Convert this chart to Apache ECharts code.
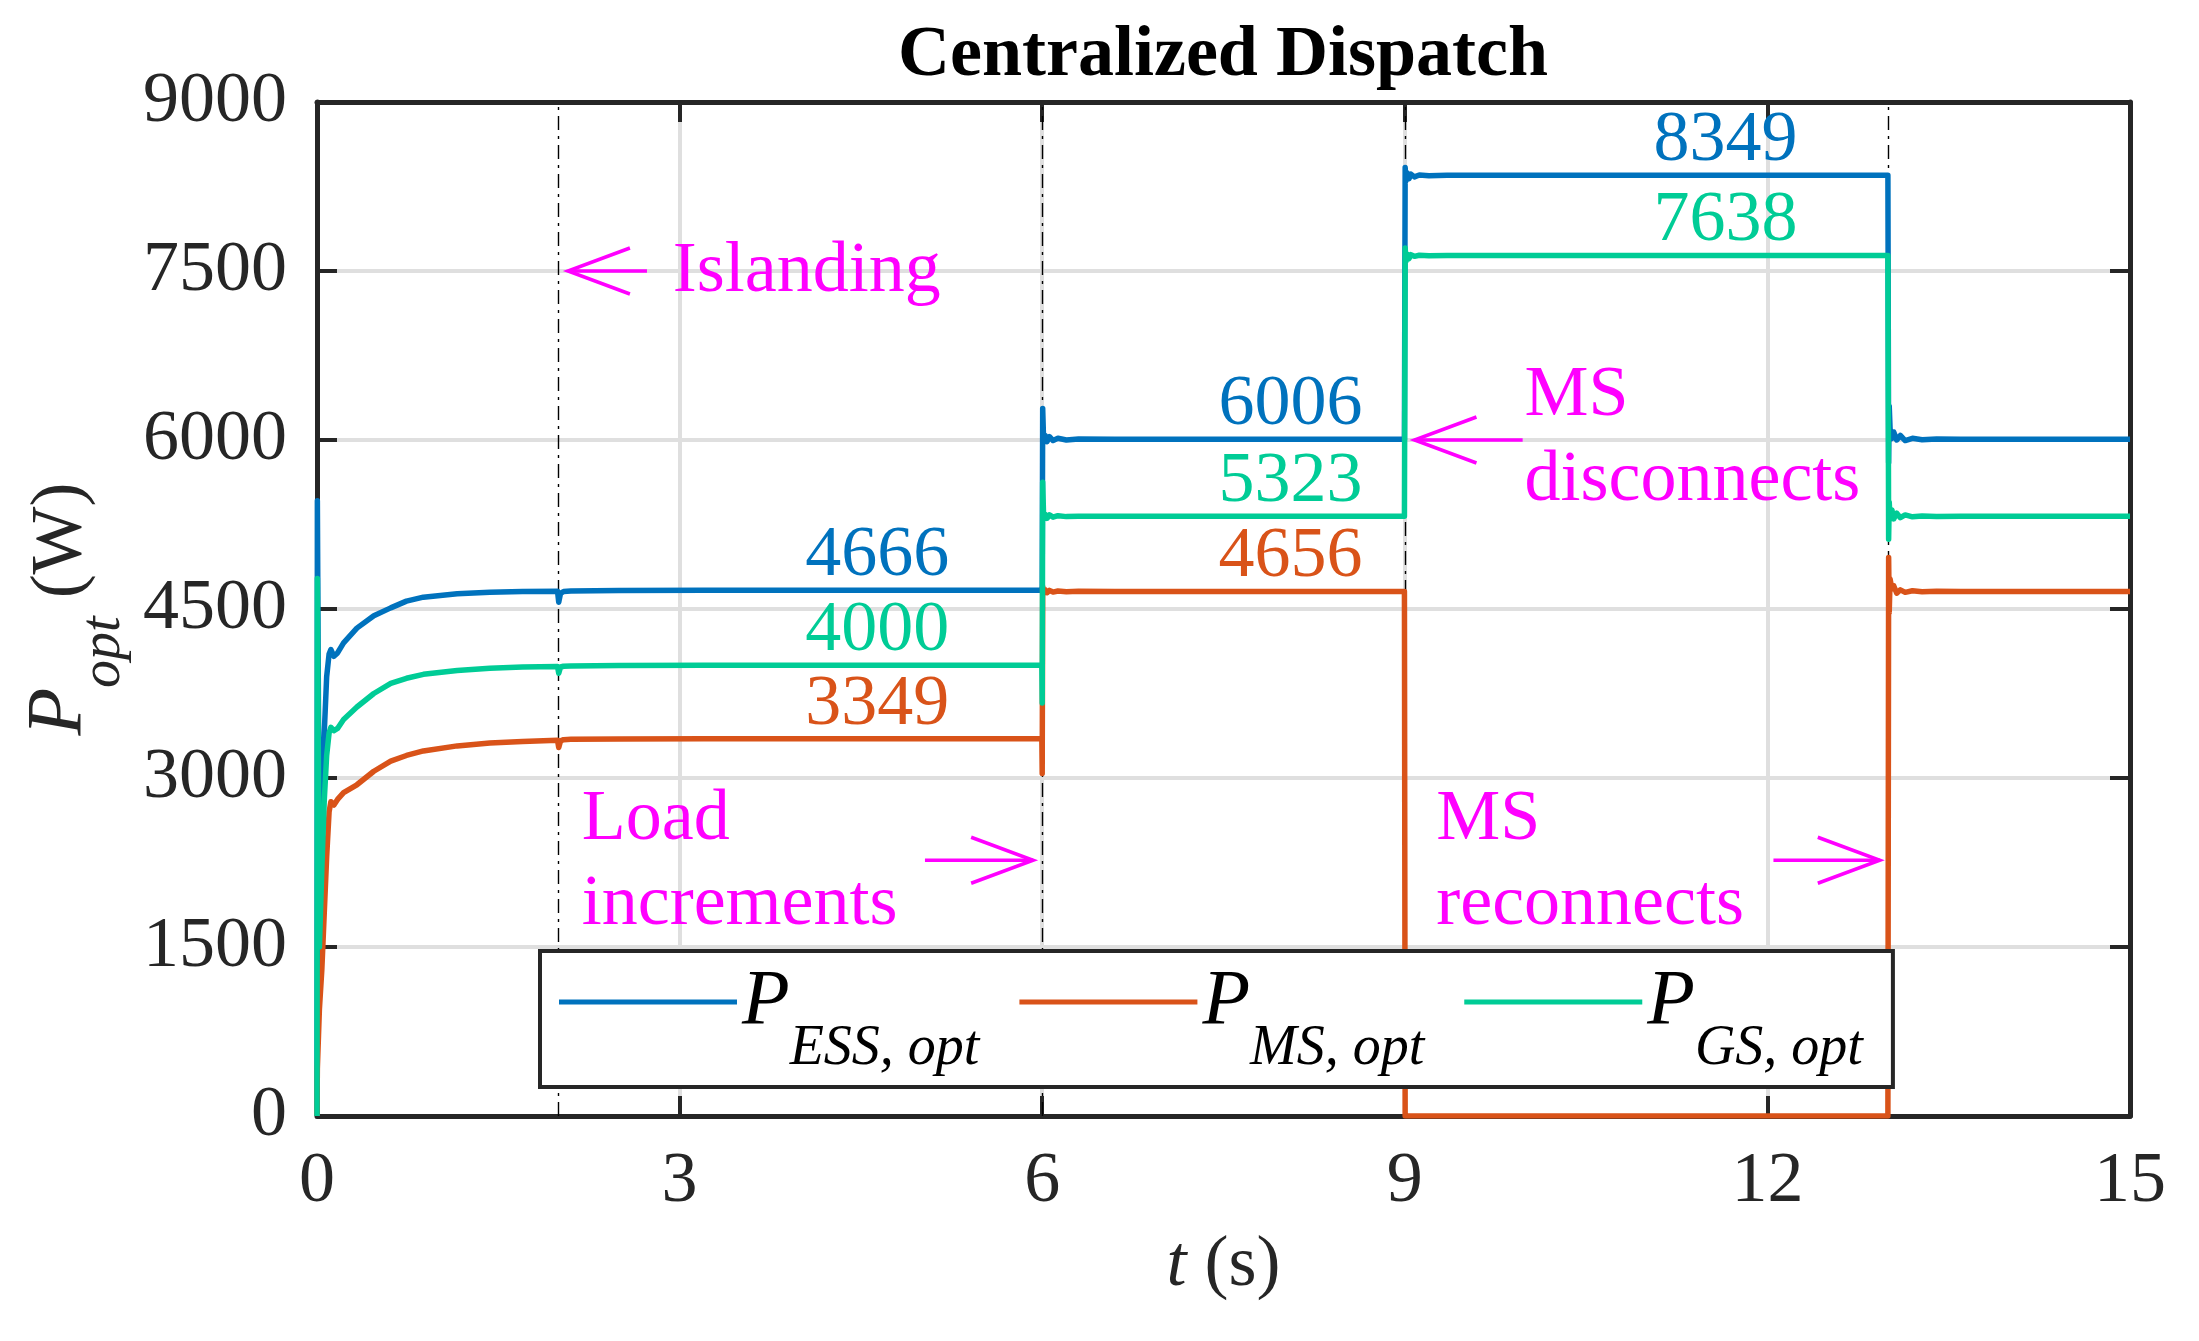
<!DOCTYPE html>
<html><head><meta charset="utf-8">
<script src="https://cdn.jsdelivr.net/npm/echarts@6/dist/echarts.min.js"></script>
<style>html,body{margin:0;padding:0;background:#fff}#c{width:2199px;height:1341px}</style>
</head><body><div id="c"></div>
<script>
const FONT = '"Liberation Serif","Times New Roman",Times,serif';

// time samples (s), shared by the three series
const timeS = [
  0, 0.003, 0.02, 0.04, 0.06, 0.08, 0.1, 0.115, 0.14, 0.17, 0.22, 0.33, 0.47, 0.61, 0.74, 0.88, 1.16, 1.43, 1.7, 1.99,
  2.0, 2.015, 2.04, 2.1, 2.5, 3.2, 4.5, 5.997,
  6.0, 6.004, 6.012, 6.025, 6.04, 6.06, 6.09, 6.13, 6.2, 6.3, 6.6, 7.5, 8.997,
  9.003, 9.01, 9.02, 9.035, 9.05, 9.08, 9.12, 9.2, 9.35, 9.6, 11, 12.997,
  13.003, 13.008, 13.015, 13.03, 13.045, 13.07, 13.1, 13.14, 13.2, 13.28, 13.4, 13.6, 14.2, 15
];
const essP = [
  0, 5460, 2000, 2700, 3400, 3900, 4100, 4140, 4080, 4110, 4200, 4330, 4440, 4510, 4570, 4605, 4635, 4648, 4655, 4658,
  4560, 4640, 4655, 4660, 4664, 4666, 4666, 4666,
  4700, 6280, 5980, 6040, 5985, 6030, 5995, 6015, 6000, 6008, 6006, 6006, 6006,
  8418, 8300, 8370, 8320, 8360, 8335, 8352, 8345, 8350, 8349, 8349, 8349,
  5800, 6300, 6100, 6012, 6071, 6000, 6040, 5995, 6015, 6002, 6008, 6006, 6006, 6006
];
const msP = [
  0, 420, 950, 1300, 1800, 2300, 2700, 2790, 2760, 2810, 2870, 2940, 3060, 3150, 3200, 3240, 3285, 3310, 3325, 3335,
  3270, 3330, 3340, 3343, 3347, 3349, 3349, 3349,
  3040, 4700, 4640, 4670, 4645, 4665, 4650, 4660, 4654, 4657, 4656, 4656, 4656,
  0, 0, 0, 0, 0, 0, 0, 0, 0, 0, 0, 0,
  4957, 4470, 4766, 4678, 4707, 4640, 4670, 4648, 4662, 4653, 4657, 4656, 4656, 4656
];
const gsP = [
  0, 4770, 1500, 2200, 2800, 3200, 3400, 3450, 3420, 3440, 3520, 3630, 3750, 3840, 3885, 3920, 3955, 3975, 3985, 3990,
  3930, 3985, 3992, 3995, 3998, 4000, 4000, 4000,
  3666, 5626, 5300, 5340, 5305, 5335, 5315, 5328, 5320, 5324, 5323, 5323, 5323,
  7705, 7586, 7650, 7610, 7645, 7630, 7640, 7636, 7638, 7638, 7638, 7638,
  5120, 5448, 5300, 5380, 5300, 5350, 5310, 5335, 5318, 5326, 5322, 5323, 5323, 5323
];

const seriesNames = ['ESS, opt', 'MS, opt', 'GS, opt'];
const seriesColors = ['#0072BD', '#D95319', '#00CC96'];
const eventTimes = [2, 6, 9, 13];

// steady-state value labels: text, right-edge time, level
const valueLabels = [
  { text: '4666', t: 5.23, v: 4666, c: 0 },
  { text: '4000', t: 5.23, v: 4000, c: 2 },
  { text: '3349', t: 5.23, v: 3349, c: 1 },
  { text: '6006', t: 8.65, v: 6006, c: 0 },
  { text: '5323', t: 8.65, v: 5323, c: 2 },
  { text: '4656', t: 8.65, v: 4656, c: 1 },
  { text: '8349', t: 12.25, v: 8349, c: 0 },
  { text: '7638', t: 12.25, v: 7638, c: 2 }
];
// event notes (left edge time, baseline level)
const notes = [
  { text: 'Islanding', t: 2.944, v: 7270 },
  { text: 'Load', t: 2.19, v: 2405 },
  { text: 'increments', t: 2.19, v: 1651 },
  { text: 'MS', t: 9.99, v: 6169 },
  { text: 'disconnects', t: 9.99, v: 5414 },
  { text: 'MS', t: 9.26, v: 2405 },
  { text: 'reconnects', t: 9.26, v: 1651 }
];
// arrows: from tail to tip
const arrows = [
  { from: [2.73, 7500], to: [2.076, 7500] },
  { from: [5.03, 2270], to: [5.925, 2270] },
  { from: [9.975, 6000], to: [9.08, 6000] },
  { from: [12.05, 2270], to: [12.93, 2270] }
];

const pairs = (vals) => timeS.map((t, i) => [t, vals[i]]);
const seriesVals = [essP, msP, gsP];

const axisCol = '#262626';
const chart = echarts.init(document.getElementById('c'), null, { renderer: 'canvas' });

const baseAxis = {
  axisLine: { show: true, onZero: false, lineStyle: { color: axisCol, width: 5 } },
  axisTick: { show: true, inside: true, length: 20, lineStyle: { color: axisCol, width: 4 } }
};

const option = {
  animation: false,
  backgroundColor: '#fff',
  title: {
    text: 'Centralized Dispatch', left: 893, top: 15,
    textStyle: { fontFamily: FONT, fontSize: 72, fontWeight: 'bold', color: '#000' }
  },
  grid: { left: 317, top: 102, width: 1813, height: 1014, containLabel: false },
  xAxis: [
    Object.assign({}, baseAxis, {
      type: 'value', min: 0, max: 15, interval: 3, position: 'bottom',
      axisLabel: { fontFamily: FONT, fontSize: 72, color: axisCol, margin: 30, formatter: (v) => String(v) },
      splitLine: { show: true, lineStyle: { color: '#dfdfdf', width: 4 } },
      name: '{i|t}{n| (s)}', nameLocation: 'middle', nameGap: 114,
      nameTextStyle: { rich: {
        i: { fontFamily: FONT, fontSize: 72, fontStyle: 'italic', color: axisCol },
        n: { fontFamily: FONT, fontSize: 72, color: axisCol }
      } }
    }),
    Object.assign({}, baseAxis, {
      type: 'value', min: 0, max: 15, interval: 3, position: 'top',
      axisLabel: { show: false }, splitLine: { show: false }
    })
  ],
  yAxis: [
    Object.assign({}, baseAxis, {
      type: 'value', min: 0, max: 9000, interval: 1500, position: 'left',
      axisLabel: { fontFamily: FONT, fontSize: 72, color: axisCol, margin: 30, formatter: (v) => String(v) },
      splitLine: { show: true, lineStyle: { color: '#dfdfdf', width: 4 } },
      name: '{p|P}{s|opt}{w| (W)}', nameLocation: 'middle', nameRotate: 90, nameGap: 186,
      nameTextStyle: { rich: {
        p: { fontFamily: FONT, fontSize: 78, fontStyle: 'italic', color: axisCol, lineHeight: 78, verticalAlign: 'top' },
        s: { fontFamily: FONT, fontSize: 56, fontStyle: 'italic', color: axisCol, lineHeight: 56, verticalAlign: 'top', padding: [56, 0, 0, 0] },
        w: { fontFamily: FONT, fontSize: 72, color: axisCol, lineHeight: 72, verticalAlign: 'top', padding: [5, 0, 0, 0] }
      } }
    }),
    Object.assign({}, baseAxis, {
      type: 'value', min: 0, max: 9000, interval: 1500, position: 'right',
      axisLabel: { show: false }, splitLine: { show: false }
    })
  ],
  legend: {
    data: seriesNames, left: 540, top: 951, orient: 'horizontal', selectedMode: false,
    icon: 'rect', itemWidth: 178, itemHeight: 5, itemGap: 40,
    padding: [12, 30, 10, 19], backgroundColor: '#fff', borderColor: axisCol, borderWidth: 4, borderRadius: 0,
    formatter: (name) => '{p|P}{s|' + name + '}',
    textStyle: { rich: {
      p: { fontFamily: FONT, fontSize: 78, fontStyle: 'italic', color: '#000', lineHeight: 78, verticalAlign: 'top' },
      s: { fontFamily: FONT, fontSize: 56, fontStyle: 'italic', color: '#000', lineHeight: 56, verticalAlign: 'top', padding: [58, 0, 0, 0] }
    } }
  },
  series: [
    {
      name: 'events', type: 'line', data: [], z: 1, silent: true,
      markLine: {
        silent: true, symbol: ['none', 'none'], z: 1, label: { show: false },
        lineStyle: { color: '#000', width: 1.4, type: [14, 6, 3, 6] },
        emphasis: { disabled: true },
        data: eventTimes.map(t => ({ xAxis: t }))
      }
    }
  ].concat(seriesNames.map((n, k) => ({
    name: n, type: 'line', data: pairs(seriesVals[k]), showSymbol: false, symbol: 'none',
    color: seriesColors[k], z: 2 + k, sampling: null,
    lineStyle: { color: seriesColors[k], width: 5.5, join: 'round' },
    emphasis: { disabled: true }
  })))
};

chart.setOption(option);

// annotations anchored in data coordinates
const px = (p) => chart.convertToPixel({ xAxisIndex: 0, yAxisIndex: 0 }, p);
const gfx = [];
valueLabels.forEach(l => {
  const p = px([l.t, l.v]);
  gfx.push({ type: 'text', x: p[0], y: p[1] - 34, z: 10, silent: true,
    style: { text: l.text, fill: seriesColors[l.c], font: '72px ' + FONT, align: 'right', verticalAlign: 'middle' } });
});
notes.forEach(l => {
  const p = px([l.t, l.v]);
  gfx.push({ type: 'text', x: p[0], y: p[1] - 24.5, z: 10, silent: true,
    style: { text: l.text, fill: '#FF00FF', font: '72px ' + FONT, align: 'left', verticalAlign: 'middle' } });
});
arrows.forEach(a => {
  const f = px(a.from), t = px(a.to);
  const dir = Math.sign(t[0] - f[0]);
  const hl = 62, hw = 23;
  gfx.push({ type: 'polyline', z: 10, silent: true, shape: { points: [f, t] },
    style: { stroke: '#FF00FF', lineWidth: 3.5, fill: null } });
  gfx.push({ type: 'polyline', z: 10, silent: true,
    shape: { points: [[t[0] - dir * hl, t[1] - hw], t, [t[0] - dir * hl, t[1] + hw]] },
    style: { stroke: '#FF00FF', lineWidth: 3.5, fill: null, lineJoin: 'miter' } });
});
chart.setOption({ graphic: { elements: gfx } });
</script>
</body></html>
